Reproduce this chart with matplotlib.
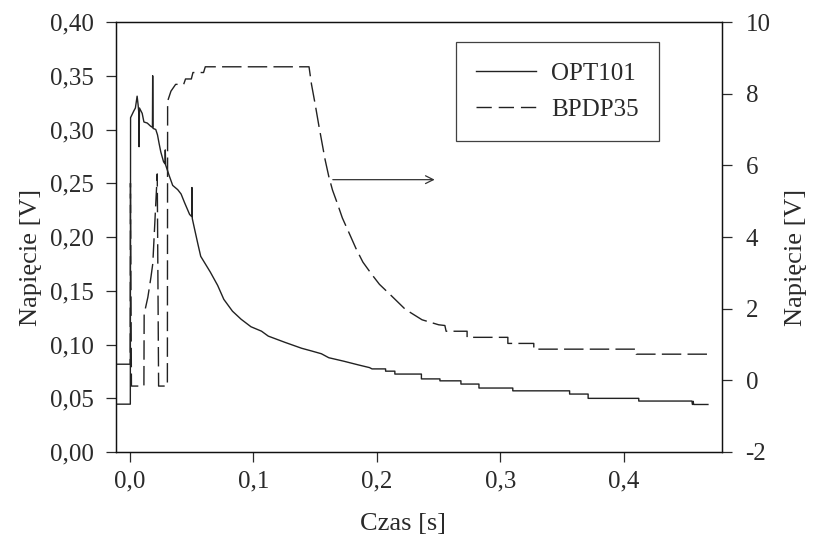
import matplotlib
matplotlib.use("Agg")
import matplotlib.pyplot as plt
from matplotlib.lines import Line2D

plt.rcParams['font.family'] = ['Liberation Serif', 'DejaVu Serif']

# OPT101 - time [s], voltage [V] (left axis)
opt_t = [-0.0113, 0.0003, 0.0005, 0.003, 0.0044, 0.0058, 0.0066, 0.0072, 0.0074,
         0.0077, 0.0099, 0.0113, 0.014, 0.0168, 0.0182, 0.0184, 0.0187, 0.0209,
         0.0223, 0.0236, 0.025, 0.0272, 0.0284, 0.0286, 0.0289, 0.0318, 0.0346,
         0.0387, 0.0414, 0.0442, 0.0483, 0.0500, 0.0502, 0.0505, 0.0524, 0.0551,
         0.0573, 0.065, 0.071, 0.076, 0.083, 0.090, 0.098, 0.1065, 0.112, 0.1255,
         0.139, 0.147, 0.155, 0.161, 0.173, 0.185, 0.194,
         0.196, 0.207, 0.207, 0.2145, 0.2145, 0.236, 0.236, 0.251, 0.251, 0.268,
         0.268, 0.2826, 0.2826, 0.310, 0.310, 0.356, 0.356, 0.371, 0.371, 0.412,
         0.412, 0.455, 0.4555, 0.456, 0.4565, 0.468]
opt_v = [0.0445, 0.0445, 0.311, 0.317, 0.320, 0.331, 0.323, 0.315, 0.284,
         0.320, 0.315, 0.307, 0.306, 0.303, 0.302, 0.350, 0.301, 0.300,
         0.295, 0.287, 0.279, 0.270, 0.268, 0.281, 0.267, 0.257, 0.248,
         0.244, 0.240, 0.232, 0.221, 0.219, 0.246, 0.217, 0.207, 0.193,
         0.182, 0.1675, 0.155, 0.142, 0.131, 0.1235, 0.1165, 0.1124, 0.1078, 0.102,
         0.0965, 0.094, 0.0914, 0.0877, 0.0845, 0.081, 0.0785,
         0.0773, 0.0773, 0.0752, 0.0752, 0.0725, 0.0725, 0.068, 0.068, 0.0662, 0.0662,
         0.0632, 0.0632, 0.0595, 0.0595, 0.0569, 0.0569, 0.0539, 0.0539, 0.0499, 0.0499,
         0.0474, 0.0474, 0.0442, 0.0472, 0.0442, 0.0442]

# BPDP35 - time [s], voltage [V] (right axis)
bp_t = [-0.0113, 0.0002, 0.0004, 0.0012, 0.0113, 0.0115, 0.0145, 0.017, 0.0185,
        0.0221, 0.0232, 0.0303, 0.0305, 0.0332, 0.037, 0.0435, 0.045, 0.0497,
        0.051, 0.0596, 0.061, 0.145, 0.147, 0.150, 0.153, 0.1555, 0.158, 0.161,
        0.164, 0.168, 0.172, 0.1776, 0.183, 0.1886, 0.1955, 0.202, 0.212, 0.223,
        0.2365, 0.250, 0.255, 0.256, 0.273, 0.273, 0.306, 0.306, 0.327, 0.327,
        0.410, 0.410, 0.468]
bp_v = [0.45, 0.45, 5.5, -0.16, -0.16, 1.85, 2.32, 2.88, 3.26,
        5.76, -0.16, -0.16, 7.79, 8.07, 8.26, 8.26, 8.41, 8.41,
        8.59, 8.59, 8.75, 8.75, 8.26, 7.70, 7.10, 6.63, 6.16, 5.69,
        5.31, 4.93, 4.53, 4.10, 3.68, 3.30, 2.97, 2.68, 2.35, 1.98,
        1.69, 1.55, 1.53, 1.37, 1.37, 1.20, 1.20, 1.03, 1.03, 0.87,
        0.87, 0.73, 0.73]

x_ticks = [0.0, 0.1, 0.2, 0.3, 0.4]
x_labels = ['0,0', '0,1', '0,2', '0,3', '0,4']
yl_ticks = [0.0, 0.05, 0.10, 0.15, 0.20, 0.25, 0.30, 0.35, 0.40]
yl_labels = ['0,00', '0,05', '0,10', '0,15', '0,20', '0,25', '0,30', '0,35', '0,40']
yr_ticks = [-2, 0, 2, 4, 6, 8, 10]
yr_labels = ['-2', '0', '2', '4', '6', '8', '10']

txt = '#2a2a2a'
fs = 18
line_col = '#222222'

fig = plt.figure(figsize=(8.19, 5.4), dpi=100)
ax = fig.add_axes([116/819, 1 - 452/540, 606/819, 430/540])
ax2 = ax.twinx()

ax.plot(opt_t, opt_v, color=line_col, lw=1.0)
ax2.plot(bp_t, bp_v, color=line_col, lw=1.0, linestyle=(0, (14, 4.5)))

ax.set_xlim(-0.0113, 0.4794)
ax.set_ylim(0, 0.4)
ax2.set_ylim(-2, 10)

ax.set_xticks(x_ticks)
ax.set_xticklabels(x_labels)
ax.set_yticks(yl_ticks)
ax.set_yticklabels(yl_labels)
ax2.set_yticks(yr_ticks)
ax2.set_yticklabels(yr_labels)

ax.tick_params(axis='both', direction='out', length=7, width=0.9, labelsize=fs,
               colors=txt, pad=9)
ax.tick_params(axis='x', pad=6)
ax2.tick_params(axis='y', direction='out', length=7, width=0.9, labelsize=fs,
                colors=txt, pad=10)
for a in (ax, ax2):
    for s in a.spines.values():
        s.set_linewidth(0.9)
        s.set_color('#111111')

ax.set_xlabel('Czas [s]', fontsize=fs + 1, color=txt)
ax.set_ylabel('Napięcie [V]', fontsize=fs + 1, color=txt)
ax2.set_ylabel('Napięcie [V]', fontsize=fs + 1, color=txt)
ax.xaxis.set_label_coords(0.474, -0.143)
ax.yaxis.set_label_coords(-0.122, 0.453)
ax2.yaxis.set_label_coords(1.104, 0.453)

# arrow pointing to the right axis
ax2.annotate('', xy=(0.249, 5.6), xytext=(0.162, 5.6),
             arrowprops=dict(arrowstyle='->', color='#333333', lw=0.9,
                             mutation_scale=14))

handles = [Line2D([], [], color=line_col, lw=1.0),
           Line2D([], [], color=line_col, lw=1.0, linestyle=(0, (11, 5)))]
leg = ax2.legend(handles, ['OPT101', 'BPDP35'], loc='upper left',
                 bbox_to_anchor=(0.561, 0.953), fontsize=fs, frameon=True,
                 fancybox=False, handlelength=2.4, handletextpad=0.6,
                 borderpad=0.8, labelspacing=0.55, borderaxespad=0)
leg.get_frame().set_edgecolor('#111111')
leg.get_frame().set_linewidth(0.9)
for t in leg.get_texts():
    t.set_color(txt)

fig.savefig('out.png', dpi=100)
